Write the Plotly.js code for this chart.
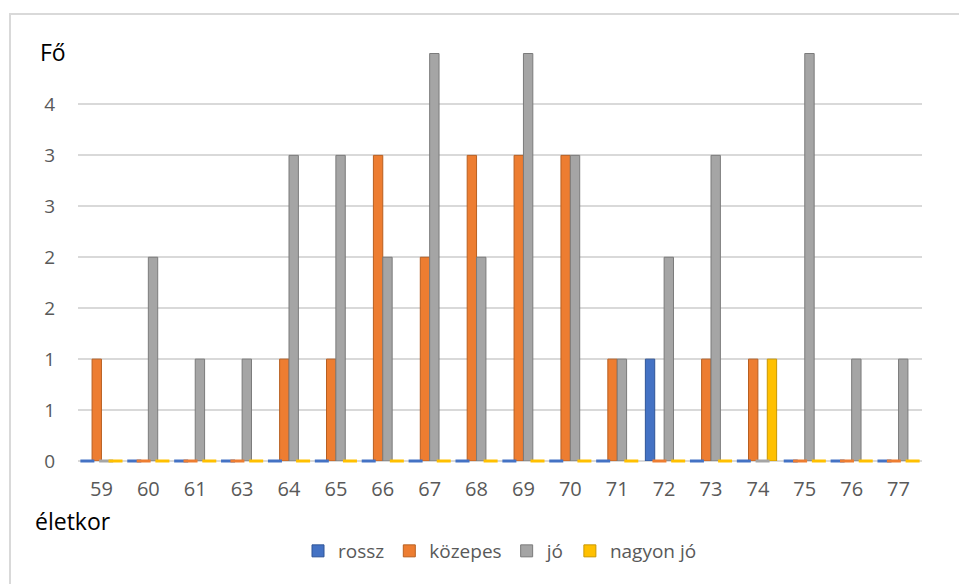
<!DOCTYPE html>
<html>
<head>
<meta charset="utf-8">
<script src="https://cdn.plot.ly/plotly-3.0.1.min.js"></script>
<style>
  html, body { margin: 0; padding: 0; background: #fff; }
  #chart { width: 959px; height: 584px; }
</style>
</head>
<body>
<div id="chart"></div>
<script>
// Age groups (életkor) on the x axis
const ages = ['59', '60', '61', '63', '64', '65', '66', '67', '68', '69', '70', '71', '72', '73', '74', '75', '76', '77'];

// Number of people (Fő) per rating
const rossz     = [0, 0, 0, 0, 0, 0, 0, 0, 0, 0, 0, 0, 1, 0, 0, 0, 0, 0];
const kozepes   = [1, 0, 0, 0, 1, 1, 3, 2, 3, 3, 3, 1, 0, 1, 1, 0, 0, 0];
const jo        = [0, 2, 1, 1, 3, 3, 2, 4, 2, 4, 3, 1, 2, 3, 0, 4, 1, 1];
const nagyonJo  = [0, 0, 0, 0, 0, 0, 0, 0, 0, 0, 0, 0, 0, 0, 1, 0, 0, 0];

const seriesNames = ['rossz', 'közepes', 'jó', 'nagyon jó'];

// y tick values and their rounded labels
const yTickVals = [0, 0.5, 1, 1.5, 2, 2.5, 3, 3.5, 4];
const yTickText = ['0', '1', '1', '2', '2', '3', '3', '4', ''];

const seriesData = [rossz, kozepes, jo, nagyonJo];
const fills = ['#4472C4', '#ED7D31', '#A5A5A5', '#FFC000'];
const edges = ['#2F5597', '#B85F20', '#7B7B7B', '#C99700'];

const FONT = '"Open Sans", "Noto Sans", sans-serif';
const GAP = 0.2;

const traces = [];
seriesData.forEach((vals, i) => {
  traces.push({
    type: 'bar',
    name: seriesNames[i],
    x: ages,
    y: vals,
    marker: { color: fills[i], line: { color: edges[i], width: 1 } },
    hoverinfo: 'x+y+name'
  });
});
// Flat floor marks for the empty (zero) slots of each series
seriesData.forEach((vals, i) => {
  traces.push({
    type: 'scatter',
    mode: 'markers',
    x: ages,
    y: vals.map(v => (v === 0 ? 0 : null)),
    marker: { symbol: 'line-ew', size: 10, line: { color: fills[i], width: 3 } },
    showlegend: false,
    hoverinfo: 'skip',
    cliponaxis: false
  });
});

const L = 78, R = 922, T = 53, B = 461, W = 959, H = 584;
const px = x => (x - L) / (R - L);
const py = y => (B - y) / (B - T);

const layout = {
  width: W,
  height: H,
  margin: { l: L, r: W - R, t: T, b: H - B },
  paper_bgcolor: '#fff',
  plot_bgcolor: '#fff',
  barmode: 'group',
  bargap: GAP,
  bargroupgap: 0,
  scattermode: 'group',
  scattergap: GAP,
  showlegend: true,
  legend: {
    orientation: 'h',
    x: 0.5, xanchor: 'center',
    y: py(551), yanchor: 'middle',
    font: { family: FONT, size: 19, color: '#595959' },
    itemwidth: 30,
    traceorder: 'normal'
  },
  xaxis: {
    type: 'category',
    showgrid: false,
    showline: false,
    zeroline: false,
    ticks: '',
    ticklabelstandoff: 14,
    tickfont: { family: FONT, size: 20, color: '#595959' }
  },
  yaxis: {
    range: [0, 4.005],
    tickmode: 'array',
    tickvals: yTickVals,
    ticktext: yTickText,
    showgrid: true,
    gridcolor: '#D9D9D9',
    gridwidth: 2,
    zeroline: true,
    zerolinecolor: '#D9D9D9',
    zerolinewidth: 2,
    showline: false,
    ticks: '',
    ticklabelstandoff: 22,
    tickfont: { family: FONT, size: 19, color: '#595959' }
  },
  annotations: [
    {
      text: 'Fő', xref: 'paper', yref: 'paper',
      x: px(38), xanchor: 'left', y: py(52), yanchor: 'middle',
      showarrow: false,
      font: { family: FONT, size: 23, color: '#000' }
    },
    {
      text: 'életkor', xref: 'paper', yref: 'paper',
      x: px(33), xanchor: 'left', y: py(521), yanchor: 'middle',
      showarrow: false,
      font: { family: FONT, size: 23, color: '#000' }
    }
  ],
  shapes: [
    {
      type: 'rect', xref: 'paper', yref: 'paper',
      x0: px(10), x1: px(1000), y0: py(700), y1: py(14),
      line: { color: '#D9D9D9', width: 2 },
      fillcolor: 'rgba(0,0,0,0)',
      layer: 'below'
    },
    {
      // the top rule begins right of the axis title
      type: 'rect', xref: 'paper', yref: 'paper',
      x0: px(74), x1: px(102), y0: py(57), y1: py(49),
      line: { width: 0 },
      fillcolor: '#fff',
      layer: 'above'
    }
  ]
};

Plotly.newPlot('chart', traces, layout, { displayModeBar: false, staticPlot: true });
</script>
</body>
</html>
